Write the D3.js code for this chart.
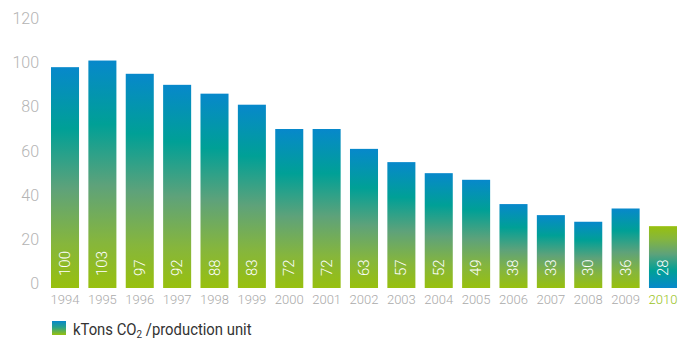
<!DOCTYPE html>
<html>
<head>
<meta charset="utf-8">
<script src="https://cdn.jsdelivr.net/npm/d3@7"></script>
<style>
  body { margin: 0; background: #fff; }
  svg { display: block; font-family: Roboto, "Liberation Sans", sans-serif; }
</style>
</head>
<body>
<svg id="chart" width="692" height="340"></svg>
<script>
// Emissions per production unit, 1994-2010
const years = ['1994', '1995', '1996', '1997', '1998', '1999', '2000', '2001', '2002',
    '2003', '2004', '2005', '2006', '2007', '2008', '2009', '2010'];
const values = [100, 103, 97, 92, 88, 83, 72, 72, 63, 57, 52, 49, 38, 33, 30, 36, 28];
const yTicks = [0, 20, 40, 60, 80, 100, 120];
const highlightYear = '2010';

const svg = d3.select('#chart');
const defs = svg.append('defs');

const barStops = [[0, '#0788cb'], [0.28, '#00a096'], [0.55, '#5ea27a'], [0.8, '#86b63c'], [1, '#98c00e']];

// normal bars: blue on top, green at bottom
const gradDown = defs.append('linearGradient')
    .attr('id', 'gradDown').attr('x1', 0).attr('y1', 0).attr('x2', 0).attr('y2', 1);
barStops.forEach(([o, c]) => gradDown.append('stop').attr('offset', o).attr('stop-color', c));

// highlighted bar: reversed
const gradUp = defs.append('linearGradient')
    .attr('id', 'gradUp').attr('x1', 0).attr('y1', 1).attr('x2', 0).attr('y2', 0);
barStops.forEach(([o, c]) => gradUp.append('stop').attr('offset', o).attr('stop-color', c));

const gradLegend = defs.append('linearGradient')
    .attr('id', 'gradLegend').attr('x1', 0).attr('y1', 0).attr('x2', 0).attr('y2', 1);
[[0, '#0788cb'], [0.45, '#2aa28a'], [1, '#98c00e']]
    .forEach(([o, c]) => gradLegend.append('stop').attr('offset', o).attr('stop-color', c));

const x = d3.scaleBand().domain(years).range([51, 677]).paddingInner(0.25).paddingOuter(0);
const y = d3.scaleLinear().domain([0, 120]).range([288, 23]);

// y tick labels (no axis line)
svg.append('g')
    .selectAll('text')
    .data(yTicks)
    .join('text')
    .attr('x', 39)
    .attr('y', d => y(d) + 1)
    .attr('text-anchor', 'end')
    .attr('fill', '#b4b4b4')
    .attr('font-weight', 300)
    .attr('font-size', '16px')
    .text(d => d);

// bars
svg.append('g')
    .selectAll('rect')
    .data(years)
    .join('rect')
    .attr('x', d => x(d))
    .attr('y', (d, i) => y(values[i]))
    .attr('width', x.bandwidth())
    .attr('height', (d, i) => y(0) - y(values[i]))
    .attr('fill', d => d === highlightYear ? 'url(#gradUp)' : 'url(#gradDown)');

// values inside bars, rotated
svg.append('g')
    .selectAll('text')
    .data(years)
    .join('text')
    .attr('transform', d => `translate(${x(d) + x.bandwidth() / 2 + 5},${y(0) - 12}) rotate(-90)`)
    .attr('fill', '#fff')
    .attr('font-weight', 300)
    .attr('font-size', '15px')
    .text((d, i) => values[i]);

// year labels
svg.append('g')
    .selectAll('text')
    .data(years)
    .join('text')
    .attr('x', d => x(d) + x.bandwidth() / 2)
    .attr('y', 304)
    .attr('text-anchor', 'middle')
    .attr('fill', d => d === highlightYear ? '#9ac31c' : '#aaaaaa')
    .attr('font-weight', 300)
    .attr('font-size', '13px')
    .text(d => d);

// legend
const legend = svg.append('g').attr('transform', 'translate(52,321)');
legend.append('rect').attr('width', 14).attr('height', 14).attr('fill', 'url(#gradLegend)');
const lt = legend.append('text')
    .attr('transform', 'translate(21,14) scale(0.9,1)')
    .attr('fill', '#333')
    .attr('font-size', '16.5px');
lt.append('tspan').text('kTons CO');
lt.append('tspan').attr('font-size', '11px').attr('dy', 3).text('2');
lt.append('tspan').attr('dy', -3).text(' /production unit');
</script>
</body>
</html>
